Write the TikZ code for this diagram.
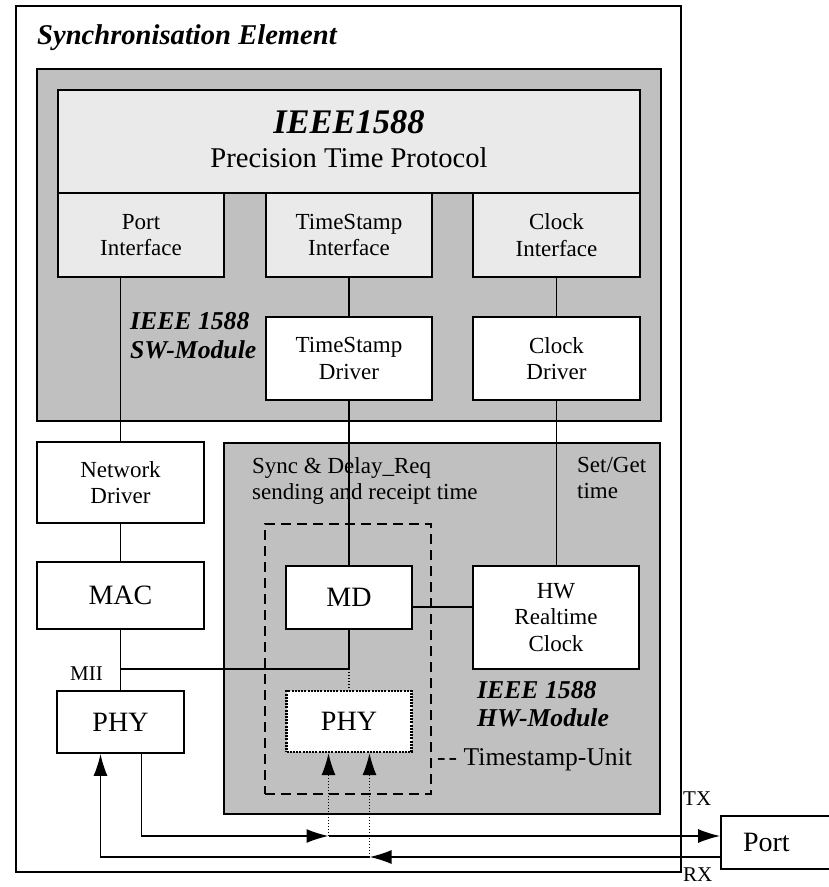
\documentclass[tikz,border=0pt]{standalone}
\usepackage{fontspec}
\setmainfont{Liberation Serif}
\usetikzlibrary{arrows.meta,calc}
\definecolor{modgray}{HTML}{C0C0C0}
\definecolor{ifgray}{HTML}{EAEAEA}
\begin{document}
\begin{tikzpicture}[x=1pt,y=-1pt,
  frame/.style={draw, line width=1.8pt, inner sep=0pt},
  module/.style={draw, line width=1.8pt, fill=modgray, inner sep=0pt},
  ifbox/.style={draw, line width=1.7pt, fill=ifgray, inner sep=0pt, align=center,
    font=\fontsize{23}{26.5}\selectfont},
  blk/.style={draw, line width=1.7pt, fill=white, inner sep=0pt, align=center,
    font=\fontsize{23}{26.5}\selectfont},
  bigblk/.style={blk, font=\fontsize{28}{32}\selectfont},
  unitbox/.style={draw, line width=2.3pt, dash pattern=on 10pt off 6pt, inner sep=0pt},
  phybox/.style={bigblk, line width=2.3pt, dash pattern=on 2pt off 1.2pt},
  wire/.style={line width=1.6pt},
  tapline/.style={line width=1.2pt, dash pattern=on 1.2pt off 1.8pt},
  tip/.style={-{Latex[length=22pt,width=14pt]}},
  modlabel/.style={font=\fontsize{25.7}{29}\selectfont\bfseries\itshape, align=left, inner sep=0pt},
  note/.style={font=\fontsize{23}{26}\selectfont, align=left, inner sep=0pt},
  small/.style={font=\fontsize{21}{24}\selectfont, inner sep=0pt}
]
\useasboundingbox (0,0) rectangle (829,887);

% enclosing element and the two modules
\node[frame, minimum width=665pt, minimum height=866pt] (outer) at (348.5,439) {};
\node[anchor=base west, inner sep=0pt, font=\fontsize{28.6}{34}\selectfont\bfseries\itshape]
  (title) at (37,44) {Synchronisation Element};
\node[module, minimum width=624pt, minimum height=352pt] (sw) at (349,245) {};
\node[module, minimum width=436pt, minimum height=371pt] (hw) at (442,628.5) {};

% software module
\node[ifbox, minimum width=582pt, minimum height=103pt] (ptp) at (349,141.5) {};
\node[anchor=base, inner sep=0pt, font=\fontsize{34.5}{38}\selectfont\bfseries\itshape]
  (ptpname) at (349,133) {IEEE1588};
\node[anchor=base, inner sep=0pt, font=\fontsize{28.6}{32}\selectfont]
  (ptpsub) at (349,167) {Precision Time Protocol};
\node[ifbox, minimum width=166pt, minimum height=84pt] (portif) at (141,235) {Port\\Interface};
\node[ifbox, minimum width=166pt, minimum height=84pt] (tsif) at (349,235) {TimeStamp\\Interface};
\node[ifbox, minimum width=167pt, minimum height=84pt] (clkif) at (556.5,235) {Clock\\Interface};
\node[blk, minimum width=166pt, minimum height=83pt] (tsdrv) at (349,358.5) {TimeStamp\\Driver};
\node[blk, minimum width=167pt, minimum height=83pt] (clkdrv) at (556.5,358.5) {Clock\\Driver};
\node[modlabel, anchor=north west] (swlabel) at (130,312.5) {IEEE 1588\\SW-Module};

% network stack
\node[blk, minimum width=167pt, minimum height=81pt] (netdrv) at (120.5,482.5) {Network\\Driver};
\node[bigblk, minimum width=167pt, minimum height=67pt] (mac) at (120.5,595.5) {MAC};
\node[bigblk, minimum width=127pt, minimum height=62pt] (phyl) at (120.5,722) {PHY};
\node[small, anchor=base east] (mii) at (103,680) {MII};

% hardware module
\node[note, anchor=north west] (synclabel) at (252,457.5) {Sync \& Delay\_Req\\sending and receipt time};
\node[note, anchor=north west] (setget) at (577,457.5) {Set/Get\\time};
\node[unitbox, minimum width=166pt, minimum height=270pt] (tsu) at (348,659) {};
\node[bigblk, minimum width=126pt, minimum height=63pt] (md) at (349,597.5) {MD};
\node[phybox, minimum width=125pt, minimum height=61pt] (phyr) at (349,721.5) {PHY};
\node[blk, minimum width=166pt, minimum height=103pt] (rtc) at (556,617.5) {HW\\Realtime\\Clock};
\node[modlabel, anchor=north west, font=\fontsize{25.7}{28}\selectfont\bfseries\itshape]
  (hwlabel) at (477,681.5) {IEEE 1588\\HW-Module};
\node[anchor=base west, inner sep=0pt, font=\fontsize{25.6}{29}\selectfont]
  (legend) at (437,765) {-\kern3pt- Timestamp-Unit};

% external port
\node[draw, line width=1.7pt, fill=white, minimum width=114pt, minimum height=53pt,
  inner sep=0pt, text width=70pt, align=left, font=\fontsize{28}{32}\selectfont]
  (port) at (778,842.5) {Port};
\node[small, anchor=base west] (txlabel) at (683,805) {TX};
\node[small, anchor=base west] (rxlabel) at (683,881) {RX};

% software connections
\draw[wire] (portif.south -| netdrv.north) -- (netdrv.north);
\draw[wire] (tsif.south) -- (tsdrv.north);
\draw[wire] (clkif.south) -- (clkdrv.north);
\draw[wire] (tsdrv.south) -- (md.north);
\draw[wire] (clkdrv.south) -- (clkdrv.south |- rtc.north);
\draw[wire] (netdrv.south) -- (mac.north);
\draw[wire] (mac.south) -- (phyl.north);

% MII tap to the timestamp unit
\coordinate (miirow) at (120.5,669);
\coordinate (mdrow) at (0,607);
\draw[wire] (miirow) -- (miirow -| md.south) -- (md.south);
\draw[tapline] (miirow -| md.south) -- (phyr.north);
\draw[wire] (md.east |- mdrow) -- (rtc.west |- mdrow);

% TX / RX lines between PHY and port
\coordinate (txrow) at (0,836);
\coordinate (rxrow) at (0,857);
\coordinate (txout) at ($(phyl.south)+(21,0)$);
\coordinate (rxin) at ($(phyl.south)+(-20,0)$);
\coordinate (tap1) at ($(phyr.south)+(-20.5,0)$);
\coordinate (tap2) at ($(phyr.south)+(20.5,0)$);
\draw[wire, tip] (txout) |- (tap1 |- txrow);
\draw[wire, tip] (tap1 |- txrow) -- (port.west |- txrow);
\draw[wire, tip] (port.west |- rxrow) -- (tap2 |- rxrow);
\draw[wire, tip] (tap2 |- rxrow) -| (rxin);
\draw[tapline, tip] (tap1 |- txrow) -- (tap1);
\draw[tapline, tip] (tap2 |- rxrow) -- (tap2);
\end{tikzpicture}
\end{document}
